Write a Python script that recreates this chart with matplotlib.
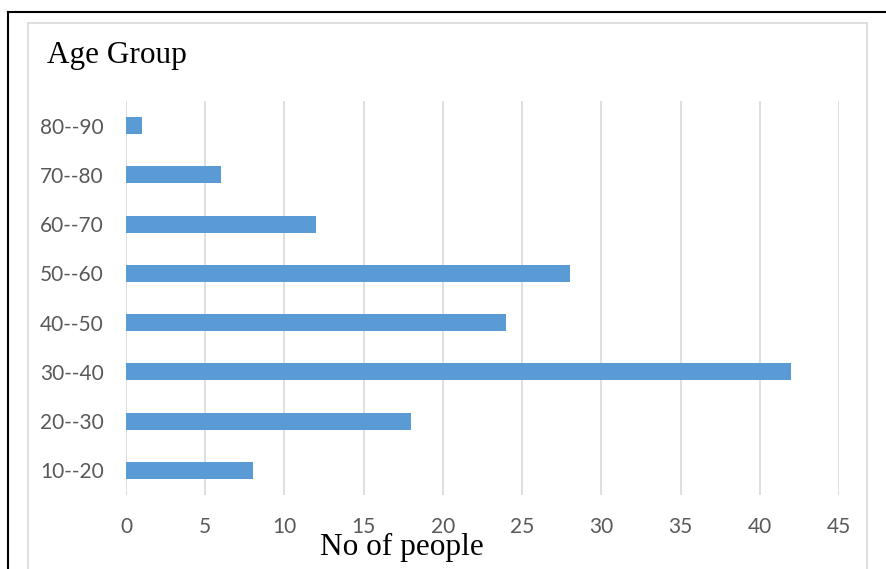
import matplotlib
matplotlib.use("Agg")
import matplotlib.pyplot as plt
from matplotlib.lines import Line2D

categories = ["10--20", "20--30", "30--40", "40--50", "50--60", "60--70", "70--80", "80--90"]
people = [8, 18, 42, 24, 28, 12, 6, 1]
x_ticks = [0, 5, 10, 15, 20, 25, 30, 35, 40, 45]

W, H = 887, 569
fig = plt.figure(figsize=(W / 100, H / 100), dpi=100)
fig.patch.set_facecolor("white")

def fx(px):
    return px / W

def fy(py):
    return 1 - py / H

# outer black frame (top and left)
fig.add_artist(Line2D([fx(8), fx(887)], [fy(12), fy(12)], color="black", lw=1.5))
fig.add_artist(Line2D([fx(8), fx(8)], [fy(12), fy(569)], color="black", lw=1.5))
# chart area border
grey = "#d9d9d9"
fig.add_artist(Line2D([fx(28), fx(867)], [fy(23), fy(23)], color=grey, lw=1.2))
fig.add_artist(Line2D([fx(28), fx(28)], [fy(23), fy(569)], color=grey, lw=1.2))
fig.add_artist(Line2D([fx(867), fx(867)], [fy(23), fy(569)], color=grey, lw=1.2))

ax = fig.add_axes([fx(126), fy(495), fx(839) - fx(126), fy(101) - fy(495)])
ypos = list(range(len(categories)))
ax.barh(ypos, people, height=0.35, color="#5b9bd5", zorder=3)
ax.set_xlim(0, 45)
ax.set_ylim(-0.5, len(categories) - 0.5)
ax.set_xticks(x_ticks)
ax.set_yticks(ypos)
ax.set_yticklabels(categories)
ax.grid(axis="x", color="#d9d9d9", lw=1.2, zorder=0)
for s in ax.spines.values():
    s.set_visible(False)
ax.tick_params(length=0, labelsize=15, labelcolor="#595959")
ax.tick_params(axis="y", pad=16)
ax.tick_params(axis="x", pad=16)
for lab in ax.get_xticklabels() + ax.get_yticklabels():
    lab.set_family("Lato")

fig.text(fx(47), fy(63), "Age Group", family="Liberation Serif", fontsize=22.5,
         ha="left", va="baseline")
fig.text(fx(402), fy(555), "No of people", family="Liberation Serif", fontsize=22.5,
         ha="center", va="baseline")

fig.savefig("out.png", dpi=100)
